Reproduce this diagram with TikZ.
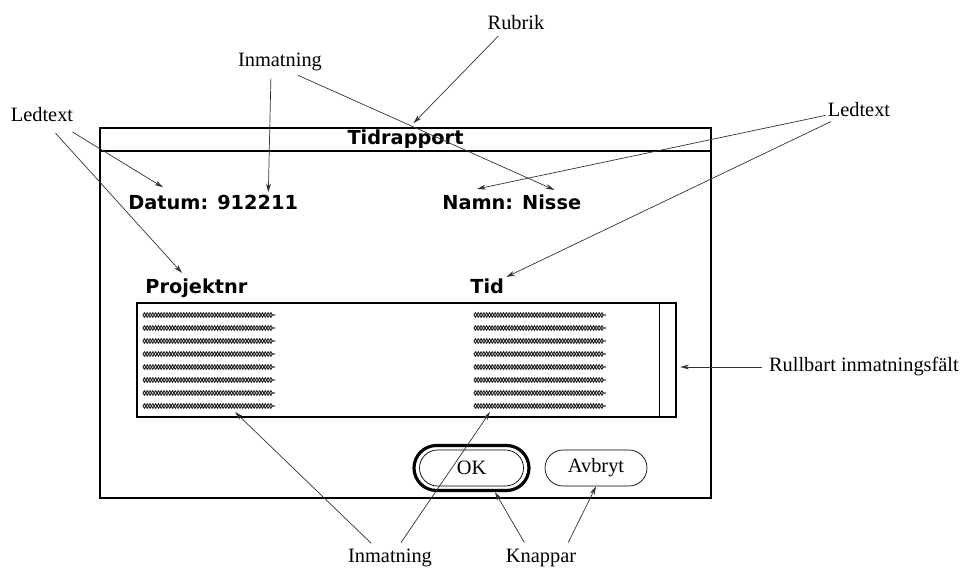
\documentclass[tikz,border=0pt]{standalone}
\usepackage{fontspec}
\setmainfont{Liberation Serif}
\newfontfamily\dlgfont{DejaVu Sans}
\usepackage{tikz}
\usetikzlibrary{arrows.meta,positioning,calc,decorations.pathmorphing}

\begin{document}
\begin{tikzpicture}[
    etikett/.style={font=\fontsize{11.6}{13}\selectfont, inner sep=1pt},
    dlgtext/.style={font=\dlgfont\bfseries\fontsize{11}{12}\selectfont, inner sep=0pt},
    pil/.style={-{Stealth[length=5pt, width=2.8pt]}, line width=0.4pt, black!80, shorten <=3pt},
    knapp/.style={draw, line width=0.4pt, minimum width=2.08cm, minimum height=0.72cm,
                  rounded corners=0.36cm, inner sep=0pt, font=\fontsize{11.6}{13}\selectfont},
    rad/.style={line width=0.55pt, black!85, decoration={zigzag, segment length=3.2pt, amplitude=1.3pt}, decorate}
  ]
    \useasboundingbox (0,0) rectangle (19.22,11.48);

    % dialog window
    \node[draw, line width=0.9pt, minimum width=12.22cm, minimum height=7.40cm, inner sep=0pt] (dialog) at (8.11,5.22) {};
    \node[draw, line width=0.9pt, anchor=north, minimum width=12.22cm, minimum height=0.46cm, inner sep=0pt,
          font=\dlgfont\bfseries\fontsize{11}{12}\selectfont] (titel) at (dialog.north) {Tidrapport};

    \node[dlgtext, anchor=base west] (datum) at (2.56,7.28) {Datum: 912211};
    \node[dlgtext, anchor=base west] (namn) at (8.84,7.28) {Namn: Nisse};
    \node[dlgtext, anchor=base west] (projnr) at (2.90,5.62) {Projektnr};
    \node[dlgtext, anchor=base west] (tid) at (9.40,5.62) {Tid};

    % scrollable field
    \node[draw, line width=0.8pt, minimum width=10.78cm, minimum height=2.28cm, inner sep=0pt] (falt) at (8.13,4.28) {};
    \node[draw, line width=0.6pt, anchor=north east, minimum width=0.34cm, minimum height=2.28cm, inner sep=0pt] (rullist) at (falt.north east) {};
    \foreach \i in {0,...,7} {
      \draw[rad] (2.86,5.18-0.26*\i) -- (5.50,5.18-0.26*\i);
      \draw[rad, decoration={mirror}] (2.86,5.18-0.26*\i) -- (5.50,5.18-0.26*\i);
      \draw[rad] (9.48,5.18-0.26*\i) -- (12.12,5.18-0.26*\i);
      \draw[rad, decoration={mirror}] (9.48,5.18-0.26*\i) -- (12.12,5.18-0.26*\i);
    }

    % buttons
    \node[knapp] (ok) at (9.43,2.12) {OK};
    \node[draw, line width=1.8pt, minimum width=2.30cm, minimum height=0.90cm, rounded corners=0.45cm, inner sep=0pt] (okram) at (ok) {};
    \node[knapp, minimum width=2.04cm] (avbryt) at (11.92,2.12) {Avbryt};

    % labels
    \node[etikett] (rubrik) at (10.32,11.02) {Rubrik};
    \node[etikett] (inmTopp) at (5.60,10.24) {Inmatning};
    \node[etikett] (ledV) at (0.84,9.18) {Ledtext};
    \node[etikett] (ledH) at (17.18,9.28) {Ledtext};
    \node[etikett, anchor=west] (rull) at (15.34,4.14) {Rullbart inmatningsfält};
    \node[etikett] (inmBotten) at (7.80,0.32) {Inmatning};
    \node[etikett] (knappar) at (10.82,0.32) {Knappar};

    % arrow ends inside the field
    \coordinate (vKol) at (4.70,3.24);
    \coordinate (hKol) at (9.80,3.24);

    \draw[pil] ($(rubrik.south)+(-0.28,0)$) -- ($(titel.north)+(0.16,0.08)$);
    \draw[pil] ($(inmTopp.south)+(-0.18,0)$) -- ($(datum.north east)+(-0.6,0.06)$);
    \draw[pil] ($(inmTopp.south)+(0.26,0)$) -- ($(namn.north east)+(-0.54,0.1)$);
    \draw[pil] ($(ledV.south)+(0.52,-0.1)$) -- ($(datum.north west)+(0.7,0.16)$);
    \draw[pil] ($(ledV.south)+(0.2,-0.1)$) -- ($(projnr.north west)+(0.74,0.1)$);
    \draw[pil] ($(ledH.south west)+(0.1,0.1)$) -- ($(namn.north west)+(0.7,0.12)$);
    \draw[pil] ($(ledH.south west)+(0.2,0)$) -- ($(tid.north east)+(0.04,0.02)$);
    \draw[pil, shorten >=2pt] (rull.west) -- (rull.west -| rullist.east);
    \draw[pil] ($(inmBotten.north)+(-0.3,0)$) -- (vKol);
    \draw[pil] ($(inmBotten.north)+(0.16,0)$) -- (hKol);
    \draw[pil] ($(knappar.north)+(-0.28,0)$) -- ($(okram.south)+(0.47,0)$);
    \draw[pil] ($(knappar.north)+(0.5,0)$) -- (avbryt.south);

  \end{tikzpicture}
\end{document}
